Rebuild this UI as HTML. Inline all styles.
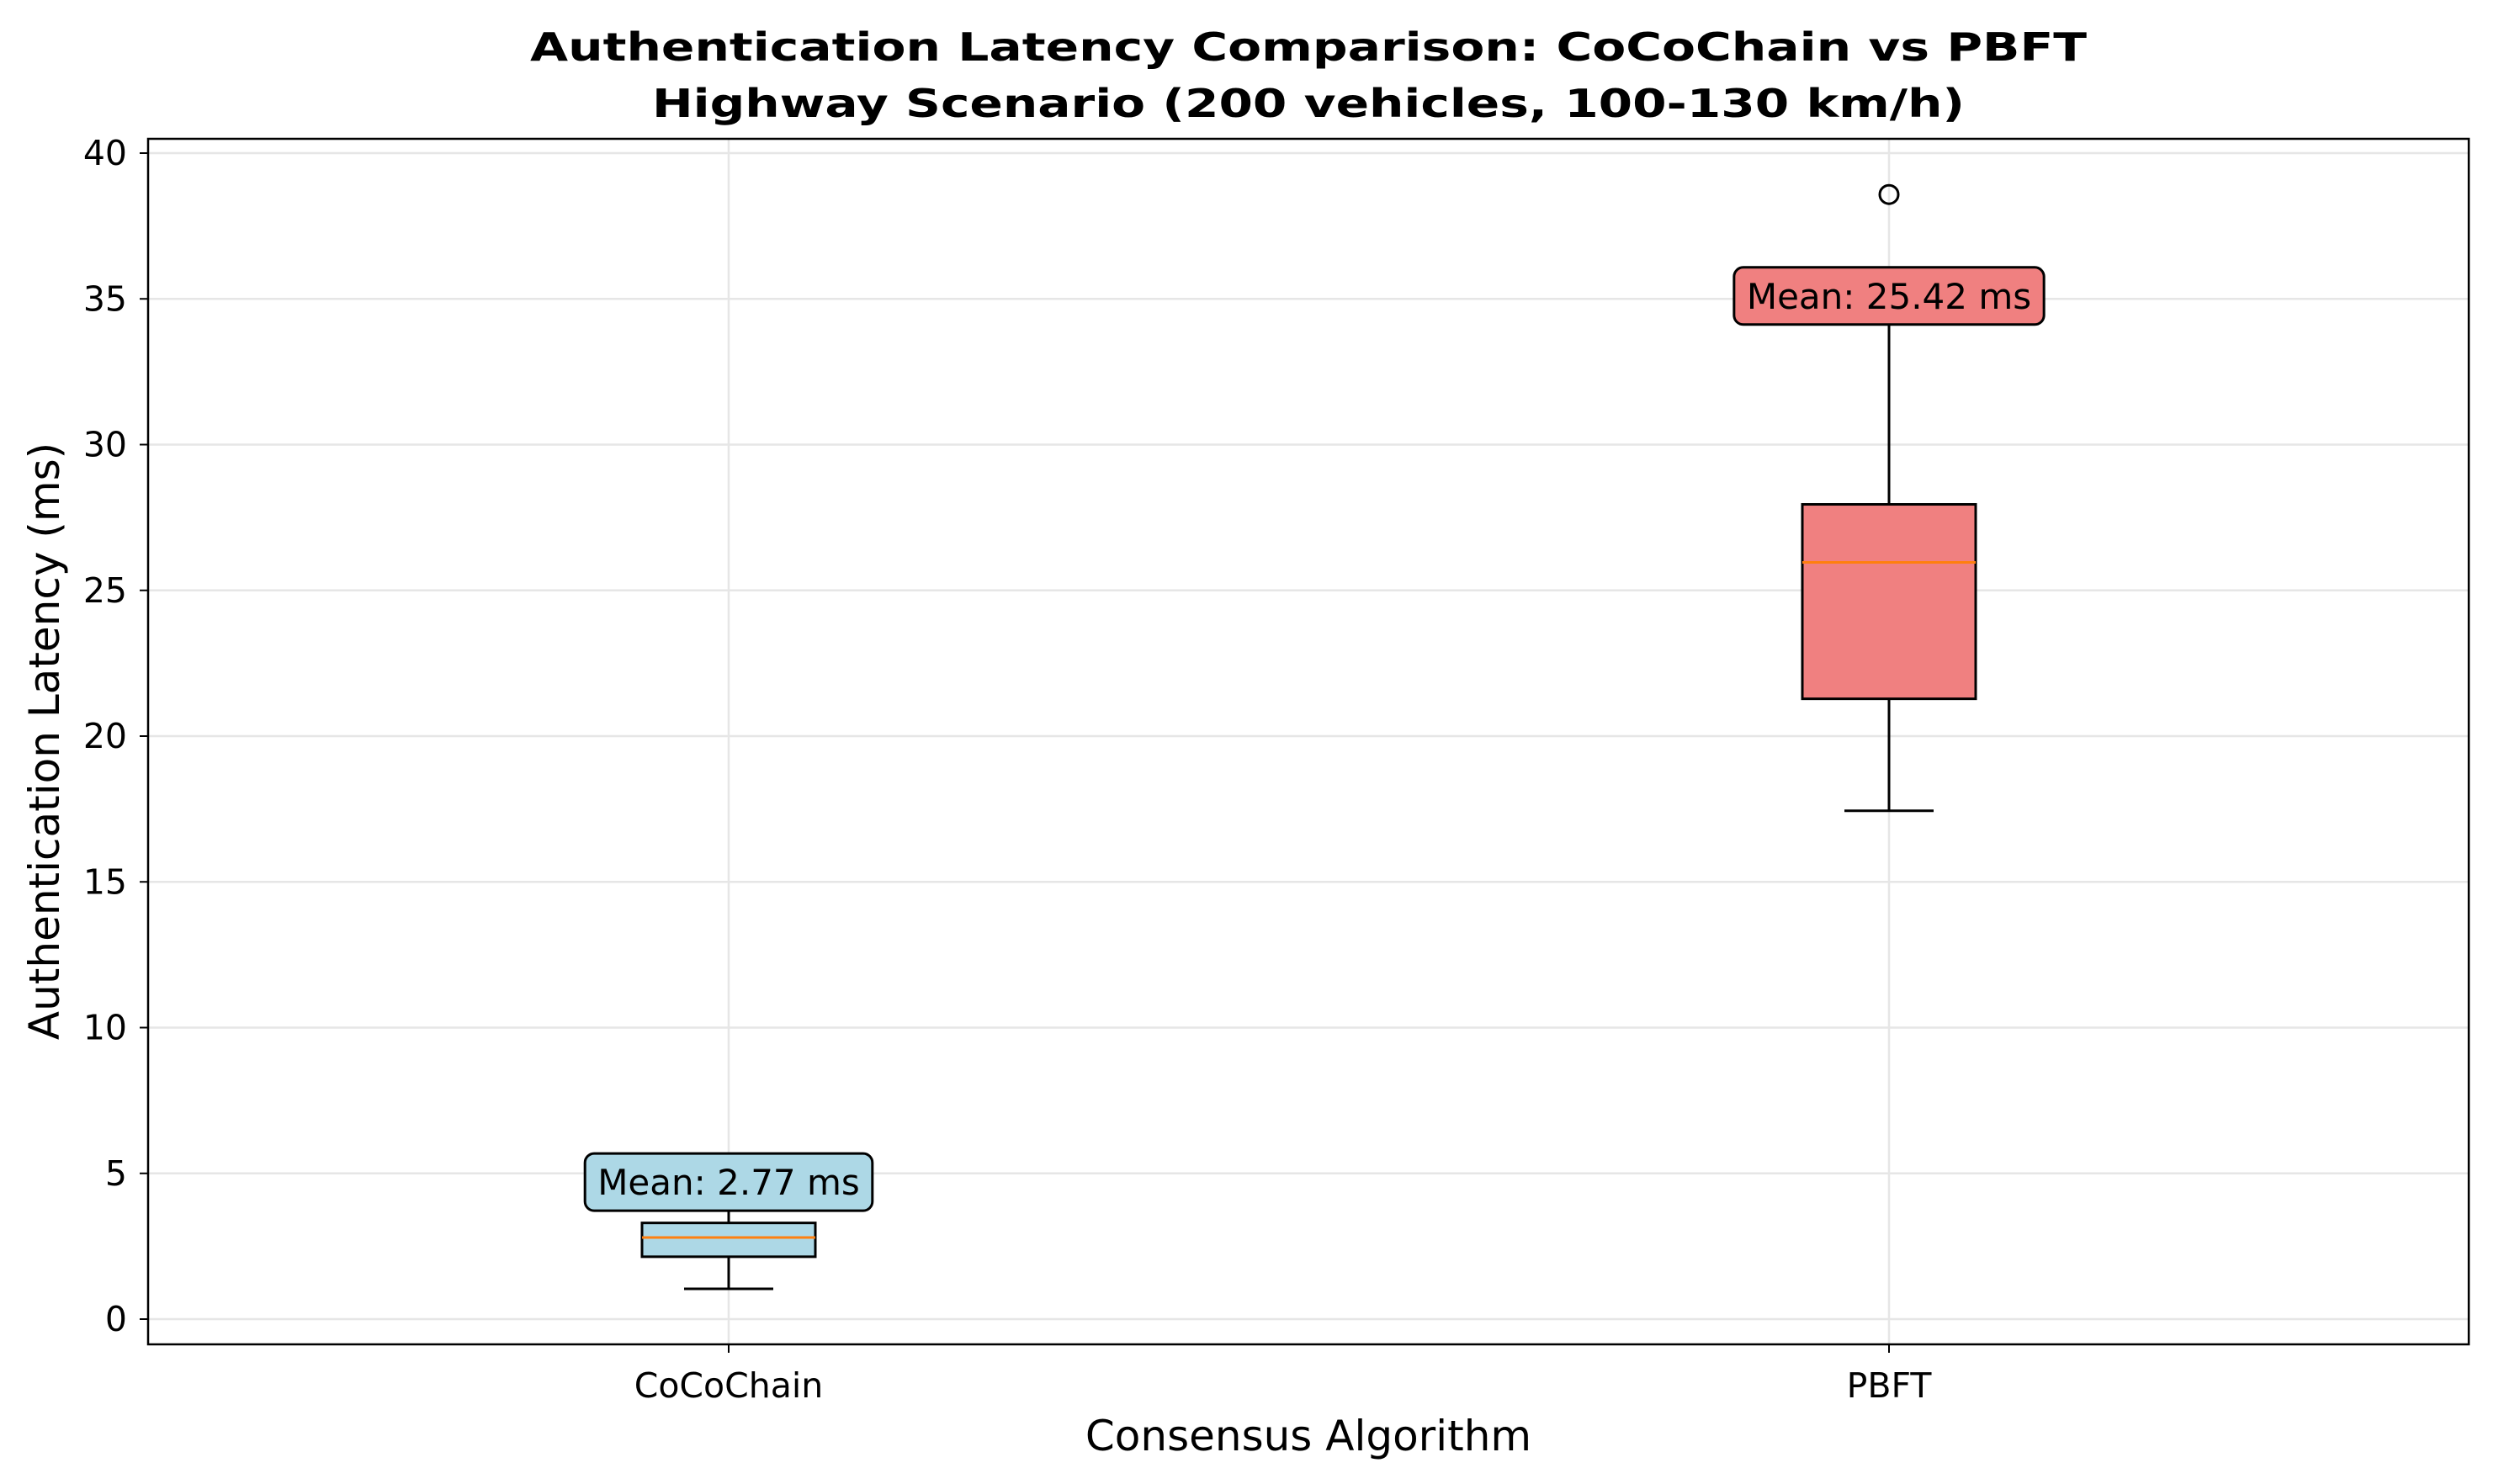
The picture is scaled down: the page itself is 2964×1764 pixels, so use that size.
<!DOCTYPE html>
<html><head><meta charset="utf-8"><style>
html,body{margin:0;padding:0;background:#fff;}
svg{display:block;font-family:"DejaVu Sans","Liberation Sans",sans-serif;}
</style></head><body>
<svg id="chart" width="2964" height="1764" viewBox="0 0 2964 1764" xmlns="http://www.w3.org/2000/svg">
<rect width="2964" height="1764" fill="#fff"/>
<text x="1555" y="72" text-anchor="middle" font-size="46" font-weight="bold" textLength="1850" lengthAdjust="spacingAndGlyphs">Authentication Latency Comparison: CoCoChain vs PBFT</text>
<text x="1555" y="139" text-anchor="middle" font-size="46" font-weight="bold" textLength="1560" lengthAdjust="spacingAndGlyphs">Highway Scenario (200 vehicles, 100-130 km/h)</text>
<g id="grid"></g>
<g id="marks"></g>
<rect x="176" y="165" width="2758" height="1433" fill="none" stroke="#000" stroke-width="2.5"/>
<g id="axes"></g>
<text x="1555" y="1724" text-anchor="middle" font-size="50">Consensus Algorithm</text>
<text transform="translate(70,881) rotate(-90)" text-anchor="middle" font-size="50">Authentication Latency (ms)</text>
</svg>
<script>
const categories = ["CoCoChain", "PBFT"];
const whiskerLow = [1.04, 17.44];
const q1 = [2.14, 21.28];
const medians = [2.8, 25.96];
const q3 = [3.3, 27.95];
const whiskerHigh = [3.8, 35.5];
const outliers = [[], [38.58]];
const means = [2.77, 25.42];
const labelY = [4.7, 35.1];
const fills = ["#add8e6", "#f08080"];
const yTicks = [0, 5, 10, 15, 20, 25, 30, 35, 40];

const NS = "http://www.w3.org/2000/svg";
const plotLeft = 176, plotRight = 2934, plotTop = 165, plotBottom = 1598;
function yScale(v){ return 1568 - v * 34.65; }
function xScale(i){ return 866 + i * (2245 - 866); }
function mk(tag, attrs, parent){
  const e = document.createElementNS(NS, tag);
  for (const k in attrs) e.setAttribute(k, attrs[k]);
  parent.appendChild(e); return e;
}
const gridG = document.getElementById("grid");
const marksG = document.getElementById("marks");
const axesG = document.getElementById("axes");

yTicks.forEach(t => {
  const g = mk("line", {x1:plotLeft, x2:plotRight, y1:yScale(t), y2:yScale(t), stroke:"#e6e6e6", "stroke-width":2.5}, gridG);
  
  
  const tk = mk("line", {x1:plotLeft-10, x2:plotLeft, y1:yScale(t), y2:yScale(t), stroke:"#000", "stroke-width":2}, axesG);
  
  
  const lb = mk("text", {x:plotLeft-25, y:yScale(t)+14, "text-anchor":"end", "font-size":41}, axesG);
  lb.textContent = t;
  
  
});
categories.forEach((c, i) => {
  const cx = xScale(i);
  const g = mk("line", {x1:cx, x2:cx, y1:plotTop, y2:plotBottom, stroke:"#e6e6e6", "stroke-width":2.5}, gridG);
  
  
  const tk = mk("line", {x1:cx, x2:cx, y1:plotBottom, y2:plotBottom+10, stroke:"#000", "stroke-width":2}, axesG);
  
  
  const lb = mk("text", {x:cx, y:plotBottom+63, "text-anchor":"middle", "font-size":41}, axesG);
  lb.textContent = c;
  
  

  const hw = 103, cap = 53;
  const w1 = mk("line", {x1:cx, x2:cx, y1:yScale(q1[i]), y2:yScale(whiskerLow[i]), stroke:"#000", "stroke-width":3}, marksG);
  
  
  const c1 = mk("line", {x1:cx-cap, x2:cx+cap, y1:yScale(whiskerLow[i]), y2:yScale(whiskerLow[i]), stroke:"#000", "stroke-width":3}, marksG);
  
  
  const w2 = mk("line", {x1:cx, x2:cx, y1:yScale(q3[i]), y2:yScale(whiskerHigh[i]), stroke:"#000", "stroke-width":3}, marksG);
  
  
  const c2 = mk("line", {x1:cx-cap, x2:cx+cap, y1:yScale(whiskerHigh[i]), y2:yScale(whiskerHigh[i]), stroke:"#000", "stroke-width":3}, marksG);
  
  
  const b = mk("rect", {x:cx-hw, y:yScale(q3[i]), width:2*hw, height:yScale(q1[i])-yScale(q3[i]), fill:fills[i], stroke:"#000", "stroke-width":3}, marksG);
  
  
  const m = mk("line", {x1:cx-hw, x2:cx+hw, y1:yScale(medians[i]), y2:yScale(medians[i]), stroke:"#ff7f0e", "stroke-width":3}, marksG);
  
  
  outliers[i].forEach(o => {
    const p = mk("circle", {cx:cx, cy:yScale(o), r:11, fill:"none", stroke:"#000", "stroke-width":3}, marksG);
    
    
  });
  const txt = "Mean: " + means[i].toFixed(2) + " ms";
  const ly = yScale(labelY[i]);
  const r = mk("rect", {y:ly-34, height:68, rx:11, fill:fills[i], stroke:"#000", "stroke-width":3}, marksG);
  
  
  const t = mk("text", {x:cx, y:ly+15, "text-anchor":"middle", "font-size":42}, marksG);
  t.textContent = txt;
  
  
  let tw = txt.length * 24;
  try { tw = t.getComputedTextLength(); } catch(e) {}
  r.setAttribute("x", cx - tw/2 - 15);
  r.setAttribute("width", tw + 30);
});
</script>
</body></html>
